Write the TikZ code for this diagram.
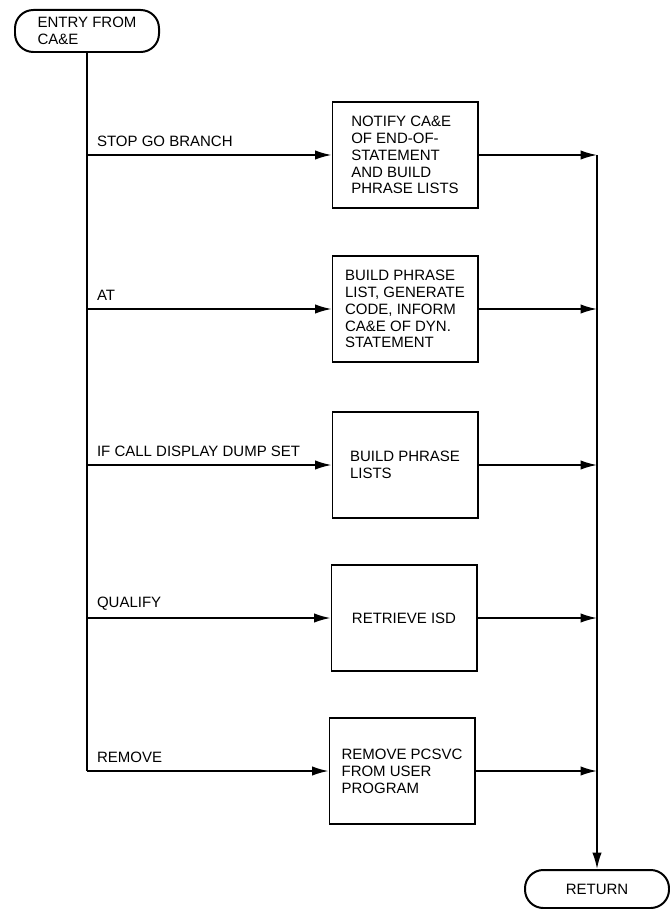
\documentclass[tikz,border=0pt]{standalone}
\usepackage{fontspec}
\setmainfont{Liberation Sans}
\usetikzlibrary{arrows.meta,positioning}

\begin{document}
\begin{tikzpicture}[>={Latex[length=14pt,width=8pt]},x=0.03cm,y=-0.03cm,line width=1.4pt,
  every node/.style={font=\fontsize{12.8}{14.4}\selectfont},
  proc/.style={draw,line width=1.7pt,minimum width=4.35cm,minimum height=3.18cm,align=left},
  term/.style={draw,line width=1.7pt,rounded corners=0.55cm,minimum width=4.32cm,minimum height=1.26cm,align=left},
  lab/.style={pos=0,anchor=south west,xshift=0.16cm,yshift=0.1cm}]
\useasboundingbox (0,0) rectangle (669,909);
\node[term] (entry) at (87,31) {ENTRY FROM\\CA\&E};
\node[proc] (notify) at (405,155) {NOTIFY CA\&E\\OF END-OF-\\STATEMENT\\AND BUILD\\PHRASE LISTS};
\node[proc] (gen) at (405,309) {BUILD PHRASE\\LIST, GENERATE\\CODE, INFORM\\CA\&E OF DYN.\\STATEMENT};
\node[proc] (build) at (405,465) {BUILD PHRASE\\LISTS};
\node[proc] (isd) at (404,618) {RETRIEVE ISD};
\node[proc] (remove) at (402,771) {REMOVE PCSVC\\FROM USER\\PROGRAM};
\node[term,minimum height=1.14cm] (ret) at (597,889) {RETURN};
% branches from the entry
\draw (entry.south) -- (entry.south |- remove);
\draw[->] (entry.south |- notify) -- node[lab]{STOP GO BRANCH} (notify);
\draw[->] (entry.south |- gen) -- node[lab]{AT} (gen);
\draw[->] (entry.south |- build) -- node[lab]{IF CALL DISPLAY DUMP SET} (build);
\draw[->] (entry.south |- isd) -- node[lab]{QUALIFY} (isd);
\draw[->] (entry.south |- remove) -- node[lab]{REMOVE} (remove);
% back to the return
\draw[->] (notify) -- (notify -| ret);
\draw[->] (gen) -- (gen -| ret);
\draw[->] (build) -- (build -| ret);
\draw[->] (isd) -- (isd -| ret);
\draw[->] (remove) -- (remove -| ret);
\draw[->] (notify -| ret) -- (ret);
\end{tikzpicture}
\end{document}
